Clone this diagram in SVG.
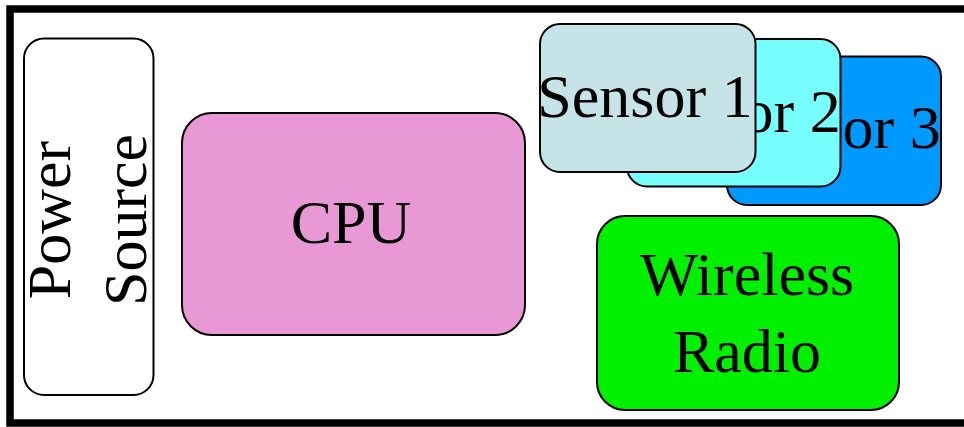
<svg xmlns="http://www.w3.org/2000/svg" width="964" height="427" viewBox="0 0 964 427">
<style>
.n{stroke:#000;stroke-width:2}
.t{font-family:"Liberation Serif","Times New Roman",serif;font-size:62px;fill:#000;text-anchor:middle}
</style>
<rect x="0" y="0" width="964" height="427" fill="#fff"/>
<rect id="frame" x="10" y="9" width="1000" height="414" fill="none" stroke="#000" stroke-width="7.5"/>
<g id="connectors"></g>
<g id="power">
<rect class="n" x="24" y="38.5" width="129.5" height="356.5" rx="20" fill="#fff"/>
<text class="t" transform="translate(0,220) rotate(-90)"><tspan x="0" y="70">Power</tspan><tspan x="0" y="146">Source</tspan></text>
</g>
<g id="cpu">
<rect class="n" x="182" y="113" width="343" height="222" rx="30" fill="#e898d4"/>
<text class="t" x="351" y="243">CPU</text>
</g>
<g id="sensor3">
<rect class="n" x="727" y="56.5" width="214" height="148.5" rx="20" fill="#0099ff"/>
<text class="t" x="833" y="148">Sensor 3</text>
</g>
<g id="sensor2">
<rect class="n" x="627" y="39" width="213.5" height="147.5" rx="20" fill="#77ffff"/>
<text class="t" x="733" y="131.5">Sensor 2</text>
</g>
<g id="sensor1">
<rect class="n" x="540" y="24" width="215.5" height="148" rx="20" fill="#c6e4e8"/>
<text class="t" x="645" y="117">Sensor 1</text>
</g>
<g id="radio">
<rect class="n" x="597" y="216" width="302" height="194" rx="28" fill="#00f000"/>
<text class="t" x="747" y="295">Wireless</text>
<text class="t" x="747" y="372">Radio</text>
</g>
</svg>
